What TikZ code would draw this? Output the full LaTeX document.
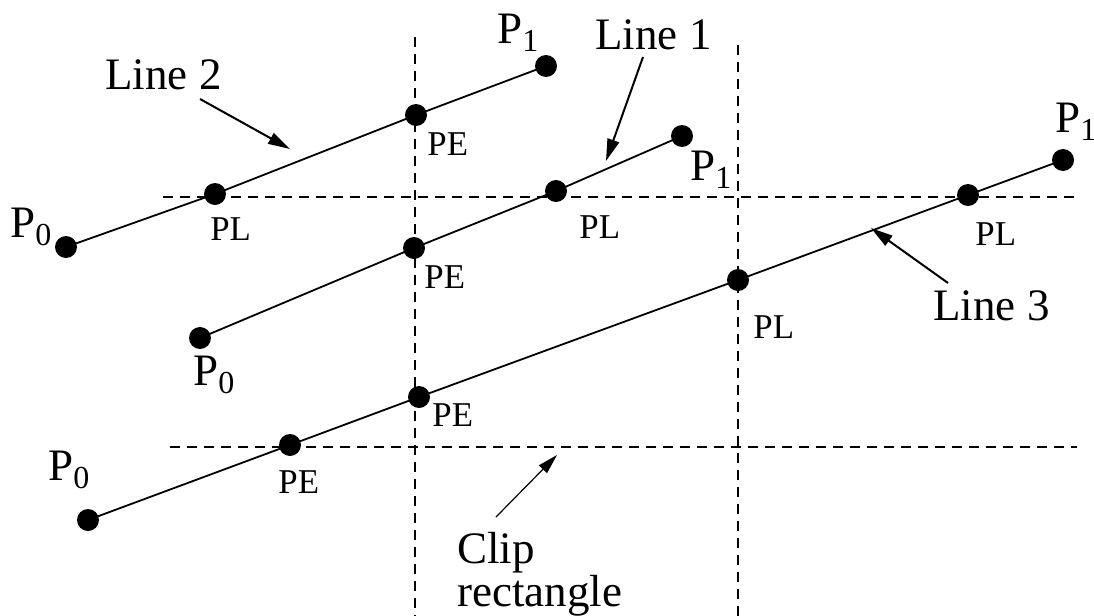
\documentclass[tikz,border=0pt]{standalone}
\usepackage{fontspec}
\setmainfont{Liberation Serif}
\usetikzlibrary{arrows.meta}
\newcommand{\Psub}[1]{P\raisebox{-4pt}{\fontsize{16}{16}\selectfont #1}}
\tikzset{
  dot/.style={circle, fill=black, inner sep=0pt, minimum size=11pt},
  seg/.style={line width=0.9pt},
  clipline/.style={line width=0.9pt, dash pattern=on 5pt off 3.5pt},
  lbl/.style={font=\fontsize{22.5}{24}\selectfont, inner sep=0pt, anchor=base west},
  sm/.style={font=\fontsize{17.4}{18}\selectfont, inner sep=0pt, anchor=base west},
  arr/.style={line width=1pt, -{Triangle[length=11pt,width=6pt]}},
  thinarr/.style={line width=0.6pt, -{Triangle[length=10pt,width=5.5pt]}}
}
\begin{document}
\begin{tikzpicture}[x=0.5pt, y=-0.5pt]
\useasboundingbox (0,0) rectangle (1094,616);
% clip rectangle edges
\coordinate (v1t) at (415,37);  \coordinate (v1b) at (415,616);
\coordinate (v2t) at (738,45);  \coordinate (v2b) at (738,616);
\coordinate (h1l) at (163,197); \coordinate (h1r) at (1077,197);
\coordinate (h2l) at (170,447); \coordinate (h2r) at (1077,447);
\draw[clipline] (v1t) -- (v1b);
\draw[clipline] (v2t) -- (v2b);
\draw[clipline] (h1l) -- (h1r);
\draw[clipline] (h2l) -- (h2r);
% Line 2
\node[dot] (l2p0) at (66,247) {};
\node[dot] (l2pl) at (215,194) {};
\node[dot] (l2pe) at (416,115) {};
\node[dot] (l2p1) at (546,66) {};
\draw[seg] (l2p0.center) -- (l2pl.center) -- (l2pe.center) -- (l2p1.center);
% Line 1
\node[dot] (l1p0) at (200,338) {};
\node[dot] (l1pe) at (414,248) {};
\node[dot] (l1pl) at (556,191) {};
\node[dot] (l1p1) at (682,136) {};
\draw[seg] (l1p0.center) -- (l1pe.center) -- (l1pl.center) -- (l1p1.center);
% Line 3
\node[dot] (l3p0) at (88,520) {};
\node[dot] (l3pe1) at (290,445) {};
\node[dot] (l3pe2) at (419,397) {};
\node[dot] (l3pl1) at (738,280) {};
\node[dot] (l3pl2) at (968,195) {};
\node[dot] (l3p1) at (1063,160) {};
\draw[seg] (l3p0.center) -- (l3pe1.center) -- (l3pe2.center) -- (l3pl1.center) -- (l3pl2.center) -- (l3p1.center);
% point labels
\node[lbl] (t2p0) at (10,237) {\Psub{0}};
\node[lbl] (t2p1) at (497,43) {\Psub{1}};
\node[sm] (t2pl) at (210,240) {PL};
\node[sm] (t2pe) at (427,155) {PE};
\node[lbl] (t1p0) at (193,385) {\Psub{0}};
\node[lbl] (t1p1) at (690,180) {\Psub{1}};
\node[sm] (t1pe) at (424,288) {PE};
\node[sm] (t1pl) at (579,238) {PL};
\node[lbl] (t3p0) at (48,480) {\Psub{0}};
\node[lbl] (t3p1) at (1055,132) {\Psub{1}};
\node[sm] (t3pe1) at (278,493) {PE};
\node[sm] (t3pe2) at (432,426) {PE};
\node[sm] (t3pl1) at (753,338) {PL};
\node[sm] (t3pl2) at (975,245) {PL};
% line labels
\node[lbl] (line2) at (105,89) {Line 2};
\node[lbl] (line1) at (595,49) {Line 1};
\node[lbl] (line3) at (933,320) {Line 3};
\node[lbl, align=left, anchor=north west, font=\fontsize{22.5}{20}\selectfont] (cliptxt) at (457,532) {Clip\\rectangle};
% arrows
\coordinate (a2s) at (200,99);  \coordinate (a2e) at (290,149);
\coordinate (a1s) at (643,57);  \coordinate (a1e) at (606,161);
\coordinate (a3s) at (948,283); \coordinate (a3e) at (871,228);
\coordinate (acs) at (496,517); \coordinate (ace) at (557,455);
\draw[arr] (a2s) -- (a2e);
\draw[arr] (a1s) -- (a1e);
\draw[arr] (a3s) -- (a3e);
\draw[thinarr] (acs) -- (ace);
\end{tikzpicture}
\end{document}
